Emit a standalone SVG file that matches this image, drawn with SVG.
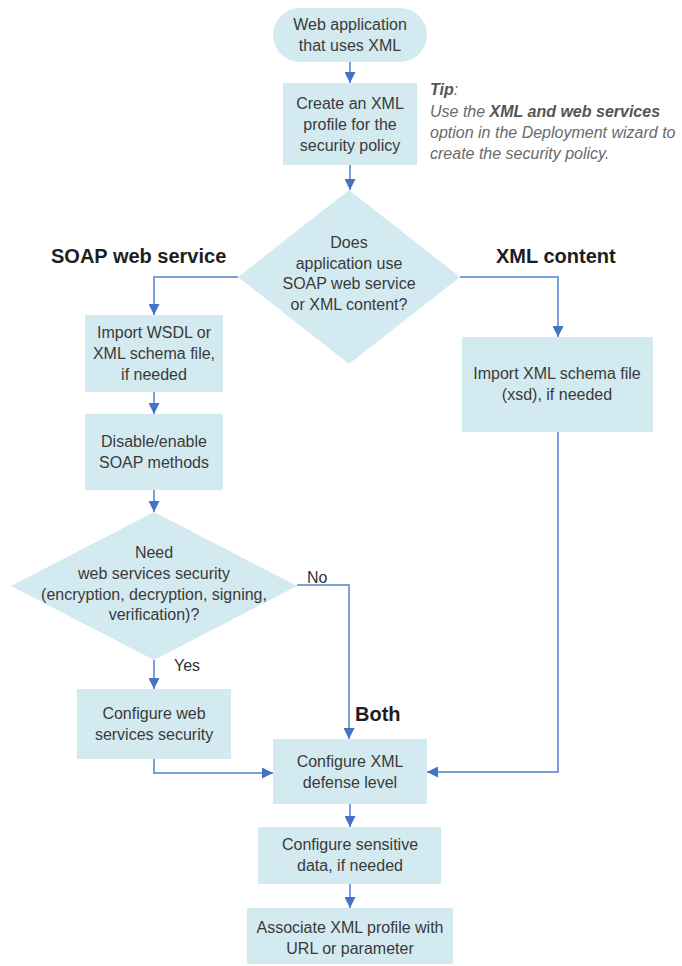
<svg xmlns="http://www.w3.org/2000/svg" width="682" height="966" viewBox="0 0 682 966">
<style>
.n{fill:#d3eaf0;stroke:none}
.t{font-family:"Liberation Sans",Arial,sans-serif;font-size:16px;fill:#3a3a3a;text-anchor:middle}
.lb{font-family:"Liberation Sans",Arial,sans-serif;font-size:20px;font-weight:bold;fill:#1e1e1e}
.yn{font-family:"Liberation Sans",Arial,sans-serif;font-size:16px;fill:#333}
.tip{font-family:"Liberation Sans",Arial,sans-serif;font-size:16px;font-style:italic;fill:#6a6a6a}
.c{fill:none;stroke:#7a9fd9;stroke-width:2;marker-end:url(#ah)}
</style>
<defs>
<marker id="ah" viewBox="0 0 10 10" refX="10" refY="5" markerWidth="11" markerHeight="11" markerUnits="userSpaceOnUse" orient="auto">
<path d="M0,0 L10,5 L0,10 Z" fill="#4472c4"/>
</marker>
</defs>
<rect width="682" height="966" fill="#ffffff"/>
<g id="connectors">
<path class="c" d="M350 62 V83"/>
<path class="c" d="M350 165 V190"/>
<path class="c" d="M238 277 H154 V315"/>
<path class="c" d="M460 277 H558 V337"/>
<path class="c" d="M154 392 V414"/>
<path class="c" d="M154 490 V512"/>
<path class="c" d="M297 585 H349 V739"/>
<path class="c" d="M154 660 V689"/>
<path class="c" d="M154 759 V773 H273"/>
<path class="c" d="M558 432 V772 H427"/>
<path class="c" d="M350 804 V827"/>
<path class="c" d="M350 884 V908"/>
</g>
<g id="start">
<rect class="n" x="273" y="8" width="154" height="54" rx="27"/>
<text class="t" x="350" y="30">Web application</text>
<text class="t" x="350" y="51">that uses XML</text>
</g>
<g id="create-profile">
<rect class="n" x="283" y="83" width="134" height="82"/>
<text class="t" x="350" y="109">Create an XML</text>
<text class="t" x="350" y="130">profile for the</text>
<text class="t" x="350" y="151">security policy</text>
</g>
<g id="tip">
<text class="tip" x="430" y="95"><tspan font-weight="bold" fill="#555">Tip</tspan>:</text>
<text class="tip" x="430" y="117">Use the <tspan font-weight="bold" fill="#555">XML and web services</tspan></text>
<text class="tip" x="430" y="138">option in the Deployment wizard to</text>
<text class="tip" x="430" y="159">create the security policy.</text>
</g>
<g id="decision-type">
<polygon class="n" points="349,190 460,277 349,364 238,277"/>
<text class="t" x="349" y="248">Does</text>
<text class="t" x="349" y="269">application use</text>
<text class="t" x="349" y="289">SOAP web service</text>
<text class="t" x="349" y="310">or XML content?</text>
</g>
<g id="label-soap"><text class="lb" x="51" y="263">SOAP web service</text></g>
<g id="label-xml"><text class="lb" x="496" y="263">XML content</text></g>
<g id="import-wsdl">
<rect class="n" x="85" y="315" width="138" height="77"/>
<text class="t" x="154" y="338">Import WSDL or</text>
<text class="t" x="154" y="359">XML schema file,</text>
<text class="t" x="154" y="380">if needed</text>
</g>
<g id="import-xsd">
<rect class="n" x="462" y="337" width="191" height="95"/>
<text class="t" x="557" y="379">Import XML schema file</text>
<text class="t" x="557" y="400">(xsd), if needed</text>
</g>
<g id="soap-methods">
<rect class="n" x="85" y="414" width="138" height="76"/>
<text class="t" x="154" y="447">Disable/enable</text>
<text class="t" x="154" y="468">SOAP methods</text>
</g>
<g id="decision-security">
<polygon class="n" points="154,512 297,586 154,660 11,586"/>
<text class="t" x="154" y="558">Need</text>
<text class="t" x="154" y="579">web services security</text>
<text class="t" x="154" y="600">(encryption, decryption, signing,</text>
<text class="t" x="154" y="620">verification)?</text>
</g>
<g id="label-no"><text class="yn" x="307" y="583">No</text></g>
<g id="label-yes"><text class="yn" x="174" y="671">Yes</text></g>
<g id="label-both"><text class="lb" x="355" y="721">Both</text></g>
<g id="ws-security">
<rect class="n" x="77" y="689" width="154" height="70"/>
<text class="t" x="154" y="719">Configure web</text>
<text class="t" x="154" y="740">services security</text>
</g>
<g id="defense-level">
<rect class="n" x="273" y="739" width="154" height="65"/>
<text class="t" x="350" y="767">Configure XML</text>
<text class="t" x="350" y="788">defense level</text>
</g>
<g id="sensitive-data">
<rect class="n" x="258" y="827" width="183" height="57"/>
<text class="t" x="350" y="850">Configure sensitive</text>
<text class="t" x="350" y="871">data, if needed</text>
</g>
<g id="associate">
<rect class="n" x="247" y="908" width="206" height="56"/>
<text class="t" x="350" y="933">Associate XML profile with</text>
<text class="t" x="350" y="954">URL or parameter</text>
</g>
</svg>
